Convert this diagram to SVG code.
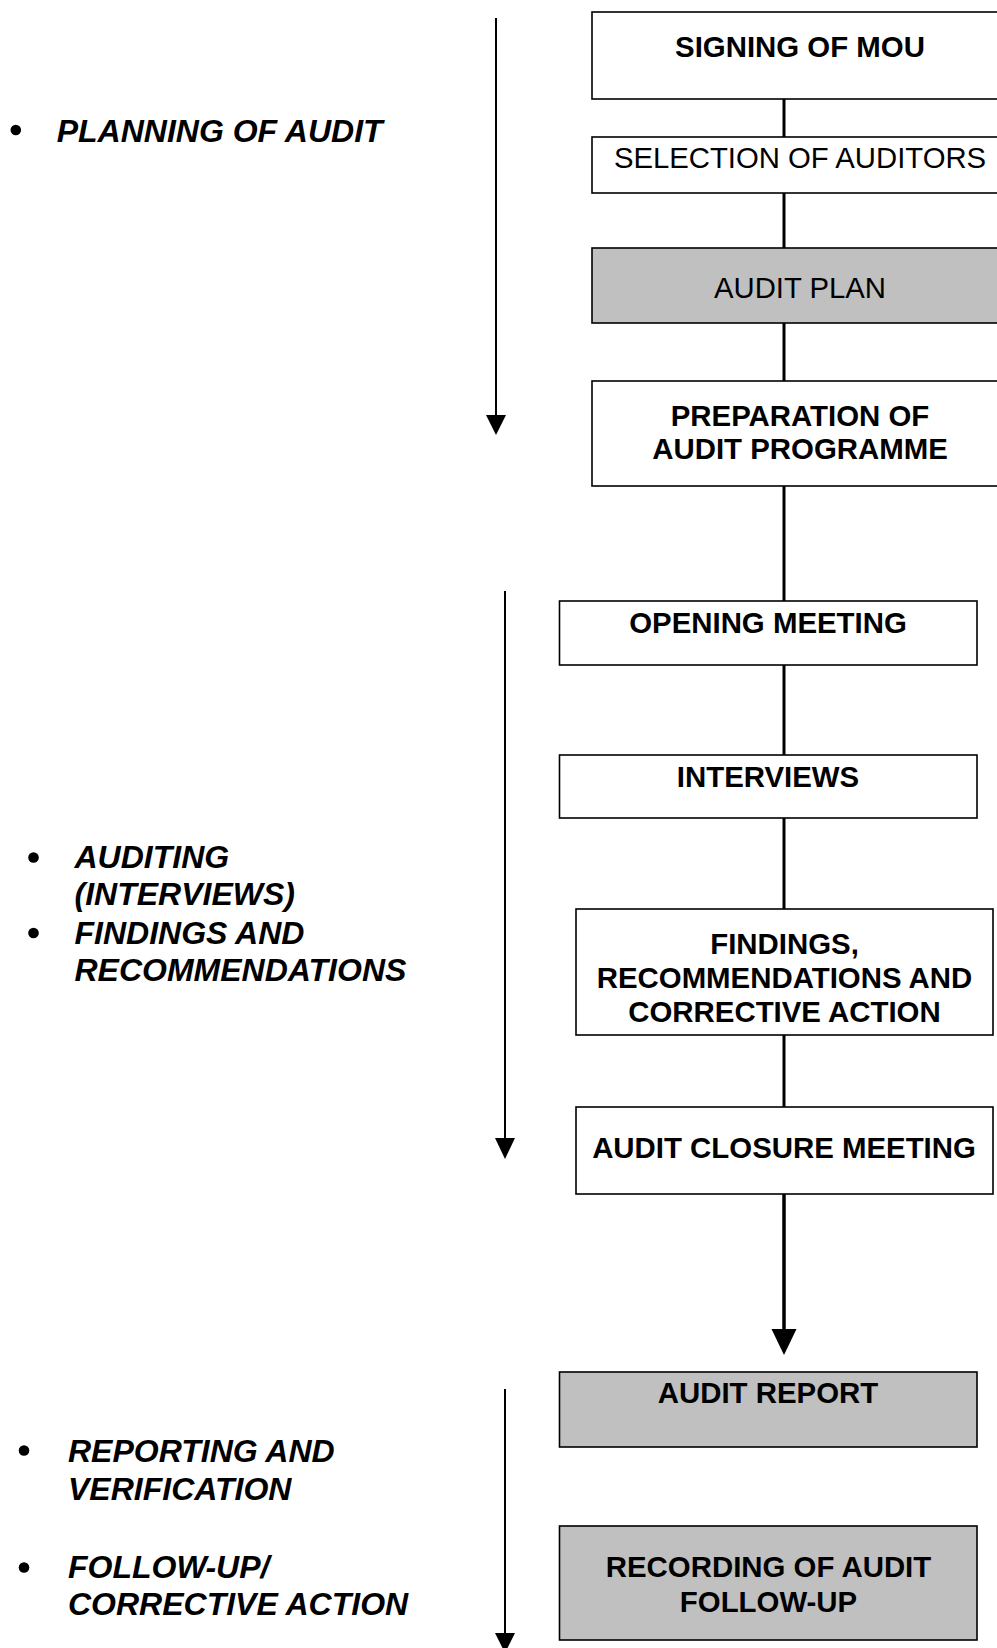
<svg xmlns="http://www.w3.org/2000/svg" width="997" height="1648" viewBox="0 0 997 1648">
<style>
.box{fill:#fff;stroke:#000;stroke-width:1.6}
.gray{fill:#c0c0c0;stroke:#000;stroke-width:1.6}
.bt{font-family:"Liberation Sans",Arial,sans-serif;font-size:29.4px;font-weight:bold;fill:#000;text-anchor:middle}
.rt{font-family:"Liberation Sans",Arial,sans-serif;font-size:29.3px;fill:#000;text-anchor:middle}
.lt{font-family:"Liberation Sans",Arial,sans-serif;font-size:32px;font-weight:bold;font-style:italic;fill:#000}
.conn{stroke:#000;stroke-width:3;fill:none}
.side{stroke:#000;stroke-width:2;fill:none}
</style>
<rect width="997" height="1648" fill="#fff"/>
<g id="connectors">
<line class="conn" x1="784" y1="99" x2="784" y2="137"/>
<line class="conn" x1="784" y1="193" x2="784" y2="248"/>
<line class="conn" x1="784" y1="323" x2="784" y2="381"/>
<line class="conn" x1="784" y1="486" x2="784" y2="601"/>
<line class="conn" x1="784" y1="665" x2="784" y2="755"/>
<line class="conn" x1="784" y1="818" x2="784" y2="909"/>
<line class="conn" x1="784" y1="1035" x2="784" y2="1107"/>
<line class="conn" x1="784" y1="1194" x2="784" y2="1332" style="stroke-width:3.5"/>
<polygon points="771.5,1329 796.5,1329 784,1355" fill="#000"/>
<line class="side" x1="496" y1="18" x2="496" y2="417"/>
<polygon points="486,415 506,415 496,435" fill="#000"/>
<line class="side" x1="505" y1="591" x2="505" y2="1140"/>
<polygon points="495,1138 515,1138 505,1159" fill="#000"/>
<line class="side" x1="505" y1="1389" x2="505" y2="1635"/>
<polygon points="495,1633 515,1633 505,1653" fill="#000"/>
</g>
<g id="signing-mou"><rect class="box" x="592" y="12" width="410" height="87"/><text class="bt" x="800" y="57">SIGNING OF MOU</text></g>
<g id="selection-auditors"><rect class="box" x="592" y="137" width="410" height="56"/><text class="rt" x="800" y="168">SELECTION OF AUDITORS</text></g>
<g id="audit-plan"><rect class="gray" x="592" y="248" width="410" height="75"/><text class="rt" x="800" y="298">AUDIT PLAN</text></g>
<g id="audit-programme"><rect class="box" x="592" y="381" width="410" height="105"/><text class="bt" x="800" y="426">PREPARATION OF</text><text class="bt" x="800" y="459">AUDIT PROGRAMME</text></g>
<g id="opening-meeting"><rect class="box" x="559.5" y="601" width="417.5" height="64"/><text class="bt" x="768" y="633">OPENING MEETING</text></g>
<g id="interviews"><rect class="box" x="559.5" y="755" width="417.5" height="63"/><text class="bt" x="768" y="787">INTERVIEWS</text></g>
<g id="findings"><rect class="box" x="576" y="909" width="417" height="126"/><text class="bt" x="784.5" y="954">FINDINGS,</text><text class="bt" x="784.5" y="988">RECOMMENDATIONS AND</text><text class="bt" x="784.5" y="1022">CORRECTIVE ACTION</text></g>
<g id="closure-meeting"><rect class="box" x="576" y="1107" width="417" height="87"/><text class="bt" x="784" y="1158">AUDIT CLOSURE MEETING</text></g>
<g id="audit-report"><rect class="gray" x="559.5" y="1372" width="417.5" height="75"/><text class="bt" x="768" y="1403">AUDIT REPORT</text></g>
<g id="recording-follow-up"><rect class="gray" x="559.5" y="1526" width="417.5" height="114"/><text class="bt" x="768.5" y="1577">RECORDING OF AUDIT</text><text class="bt" x="768.5" y="1612">FOLLOW-UP</text></g>
<g id="phase-planning"><circle cx="15.8" cy="130" r="5.3" fill="#000"/><text class="lt" x="56.7" y="142">PLANNING OF AUDIT</text></g>
<g id="phase-auditing"><circle cx="33.5" cy="857.5" r="5.3" fill="#000"/><text class="lt" x="74.5" y="868">AUDITING</text><text class="lt" x="74.5" y="905">(INTERVIEWS)</text><circle cx="33.5" cy="933" r="5.3" fill="#000"/><text class="lt" x="74.5" y="943.5">FINDINGS AND</text><text class="lt" x="74.5" y="981">RECOMMENDATIONS</text></g>
<g id="phase-reporting"><circle cx="24" cy="1450.5" r="5.3" fill="#000"/><text class="lt" x="68" y="1462">REPORTING AND</text><text class="lt" x="68" y="1500">VERIFICATION</text><circle cx="24" cy="1567.5" r="5.3" fill="#000"/><text class="lt" x="68" y="1578">FOLLOW-UP/</text><text class="lt" x="68" y="1615">CORRECTIVE ACTION</text></g>
</svg>
